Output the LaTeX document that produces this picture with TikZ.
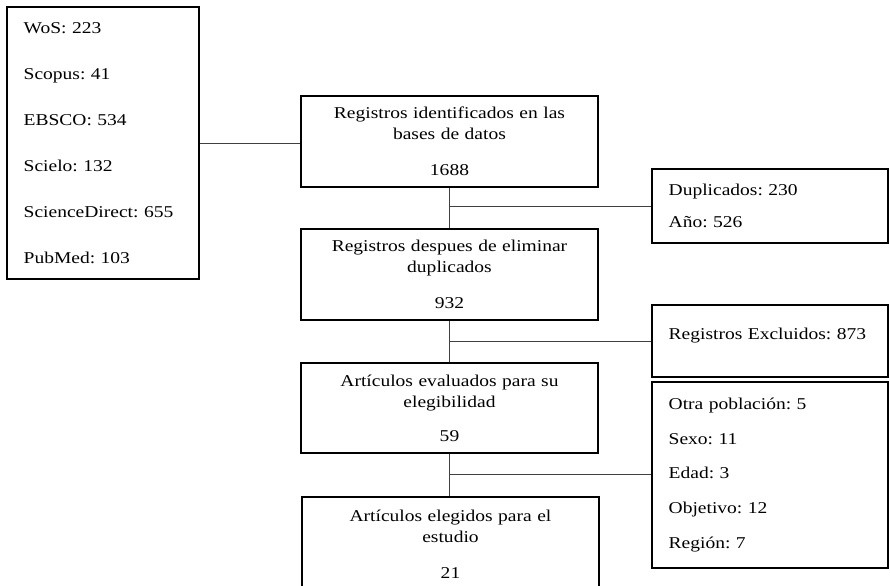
\documentclass[tikz,border=0pt]{standalone}
\usepackage{fontspec}
\setmainfont{Liberation Serif}[FakeStretch=1.18]
\usepackage{tikz}
\usetikzlibrary{positioning}
\frenchspacing

\begin{document}
\begin{tikzpicture}[
  x=0.75pt, y=-0.75pt,
  font=\fontsize{12.4}{15.5}\selectfont,
  stepbox/.style={
    draw=black,
    line width=1.1pt,
    align=center,
    text width=214.75pt,
    inner xsep=4pt,
    inner ysep=0pt
  },
  listbox/.style={
    draw=black,
    line width=1.1pt,
    align=left,
    inner xsep=12.5pt,
    inner ysep=0pt
  },
  link/.style={
    draw=black!75,
    line width=0.6pt
  }
]

\useasboundingbox (0,0) rectangle (890,586);

% -------------------------------------------------------------------
% sources
% -------------------------------------------------------------------
\node[listbox, text width=119pt, minimum height=204pt] (src) at (103,143)
{
  WoS: 223\\[19pt]
  Scopus: 41\\[19pt]
  EBSCO: 534\\[19pt]
  Scielo: 132\\[19pt]
  ScienceDirect: 655\\[19pt]
  PubMed: 103
};

% -------------------------------------------------------------------
% main flow
% -------------------------------------------------------------------
\node[stepbox, minimum height=68.25pt] (ident) at (449.5,141.5)
{
  Registros identificados en las\\
  bases de datos\\[11.5pt]
  1688
};

\node[stepbox, minimum height=68.25pt] (dedup) at (449.5,274.5)
{
  Registros despues de eliminar\\
  duplicados\\[11.5pt]
  932
};

\node[stepbox, minimum height=67.5pt] (eval) at (449.5,408)
{
  Artículos evaluados para su\\
  elegibilidad\\[10pt]
  59
};

\node[stepbox, minimum height=71.25pt] (final) at (450.5,544.5)
{
  Artículos elegidos para el\\
  estudio\\[11.5pt]
  21
};

% -------------------------------------------------------------------
% exclusions
% -------------------------------------------------------------------
\node[listbox, text width=152pt, minimum height=55.5pt] (dup) at (770,206)
{
  Duplicados: 230\\[9pt]
  Año: 526
};

\node[listbox, text width=152pt, minimum height=54pt, text depth=11pt] (excl) at (770,341)
{Registros Excluidos: 873};

\node[listbox, text width=152pt, minimum height=139.5pt] (why) at (770,475)
{
  Otra población: 5\\[10.5pt]
  Sexo: 11\\[10.5pt]
  Edad: 3\\[10.5pt]
  Objetivo: 12\\[10.5pt]
  Región: 7
};

% connectors
\draw[link] (src.east) -- (src.east -| ident.west);
\draw[link] (ident.south) -- (dedup.north);
\draw[link] (dedup.south) -- (eval.north);
\draw[link] (eval.south) -- (eval.south |- final.north);

\coordinate (cut1) at (ident.south |- dup.west);
\coordinate (cut2) at (dedup.south |- excl.west);
\coordinate (cut3) at (450,474);

\draw[link] (cut1) -- (dup.west);
\draw[link] (cut2) -- (excl.west);
\draw[link] (cut3) -- (cut3 -| why.west);

\end{tikzpicture}
\end{document}
